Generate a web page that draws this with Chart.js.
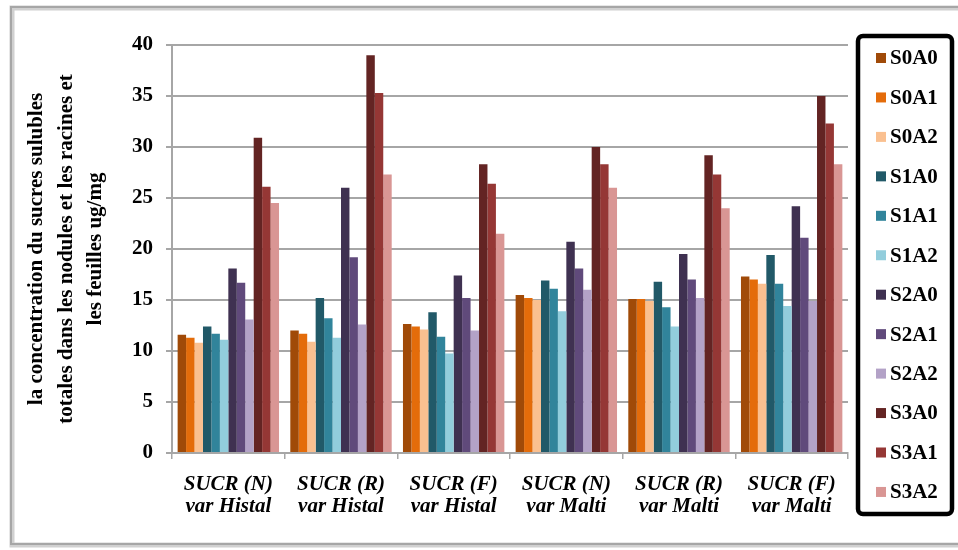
<!DOCTYPE html>
<html>
<head>
<meta charset="utf-8">
<script src="https://cdn.jsdelivr.net/npm/chart.js@4/dist/chart.umd.min.js"></script>
<style>
  html, body { margin: 0; padding: 0; background: #ffffff; }
  canvas { display: block; }
</style>
</head>
<body>
<canvas id="chart" width="958" height="550"></canvas>
<script>
// Categories: sugar content per organ (N = nodules, R = racines, F = feuilles) and variety
const categories = [
  ['SUCR (N)', 'var Histal'],
  ['SUCR (R)', 'var Histal'],
  ['SUCR (F)', 'var Histal'],
  ['SUCR (N)', 'var Malti'],
  ['SUCR (R)', 'var Malti'],
  ['SUCR (F)', 'var Malti']
];

// Treatment series (ug/mg)
const S0A0 = [11.6, 12.0, 12.65, 15.5, 15.1, 17.3];
const S0A1 = [11.3, 11.7, 12.4, 15.2, 15.1, 17.0];
const S0A2 = [10.8, 10.9, 12.1, 15.0, 14.9, 16.6];
const S1A0 = [12.4, 15.2, 13.8, 16.9, 16.8, 19.4];
const S1A1 = [11.7, 13.2, 11.4, 16.1, 14.3, 16.6];
const S1A2 = [11.1, 11.3, 9.75, 13.9, 12.4, 14.4];
const S2A0 = [18.1, 26.0, 17.4, 20.7, 19.5, 24.2];
const S2A1 = [16.7, 19.2, 15.2, 18.1, 17.0, 21.1];
const S2A2 = [13.1, 12.6, 12.0, 16.0, 15.2, 14.9];
const S3A0 = [30.9, 39.0, 28.3, 30.0, 29.2, 35.0];
const S3A1 = [26.1, 35.3, 26.4, 28.3, 27.3, 32.3];
const S3A2 = [24.5, 27.3, 21.5, 26.0, 24.0, 28.3];

const seriesNames = ['S0A0', 'S0A1', 'S0A2', 'S1A0', 'S1A1', 'S1A2',
                     'S2A0', 'S2A1', 'S2A2', 'S3A0', 'S3A1', 'S3A2'];
const seriesValues = [S0A0, S0A1, S0A2, S1A0, S1A1, S1A2,
                      S2A0, S2A1, S2A2, S3A0, S3A1, S3A2];

// Y axis range
const yMin = 0;
const yMax = 40;
const yStep = 5;

const yTitle = [
  'la concentration du sucres sulubles',
  'totales dans les nodules et les racines et',
  'les feuilles ug/mg'
];

const palette = ['#A04A08', '#E46C0A', '#FAC090',
                 '#215968', '#31849B', '#92CDDC',
                 '#3F3151', '#604A7B', '#B3A2C7',
                 '#632423', '#953735', '#D99694'];

const SERIF = "'Liberation Serif', 'Times New Roman', serif";

// White page with a soft grey frame
const framePlugin = {
  id: 'frame',
  beforeDraw(chart) {
    const ctx = chart.ctx;
    ctx.save();
    ctx.fillStyle = '#ffffff';
    ctx.fillRect(0, 0, chart.width, chart.height);
    ctx.strokeStyle = '#d0d0d0';
    ctx.lineWidth = 5;
    ctx.strokeRect(12, 8, 970, 537);
    ctx.strokeStyle = '#a6a6a6';
    ctx.lineWidth = 2;
    ctx.strokeRect(11, 7, 970, 537);
    ctx.restore();
  }
};

// Boxed legend on the right, built from the datasets
const boxLegendPlugin = {
  id: 'boxLegend',
  afterDraw(chart) {
    const ctx = chart.ctx;
    const x = 858, y = 36, w = 94, h = 478;
    ctx.save();
    ctx.lineWidth = 4.5;
    ctx.strokeStyle = '#000000';
    ctx.beginPath();
    ctx.roundRect(x, y, w, h, 5);
    ctx.stroke();
    ctx.font = 'bold 21px ' + SERIF;
    ctx.textBaseline = 'middle';
    ctx.textAlign = 'left';
    chart.data.datasets.forEach((ds, i) => {
      const cy = 58 + i * 39.45;
      ctx.fillStyle = ds.backgroundColor;
      ctx.fillRect(876, cy - 5, 10, 10);
      ctx.fillStyle = '#000000';
      ctx.fillText(ds.label, 890, cy + 1);
    });
    ctx.restore();
  }
};

new Chart(document.getElementById('chart'), {
  type: 'bar',
  data: {
    labels: categories,
    datasets: seriesNames.map((name, i) => ({
      label: name,
      data: seriesValues[i],
      backgroundColor: palette[i],
      borderWidth: 0,
      categoryPercentage: 0.9,
      barPercentage: 1.0
    }))
  },
  options: {
    responsive: false,
    maintainAspectRatio: false,
    devicePixelRatio: 1,
    animation: false,
    layout: { padding: { top: 45, right: 110, bottom: 0, left: 0 } },
    plugins: {
      legend: { display: false },
      tooltip: { enabled: false }
    },
    scales: {
      x: {
        afterFit(scale) { scale.height = 97; },
        grid: {
          offset: true,
          drawOnChartArea: false,
          drawTicks: true,
          tickLength: 6,
          color: '#a6a6a6',
          lineWidth: 1.5
        },
        border: { display: true, color: '#a6a6a6', width: 2 },
        ticks: {
          color: '#000000',
          padding: 14,
          maxRotation: 0,
          autoSkip: false,
          font: { family: SERIF, size: 21, weight: 'bold', style: 'italic', lineHeight: 1.06 }
        }
      },
      y: {
        min: yMin,
        max: yMax,
        afterFit(scale) { scale.width = 172; },
        grid: {
          color: '#a6a6a6',
          lineWidth: 2,
          drawTicks: true,
          tickLength: 6
        },
        border: { display: true, color: '#a6a6a6', width: 2 },
        ticks: {
          stepSize: yStep,
          color: '#000000',
          padding: 13,
          font: { family: SERIF, size: 21, weight: 'bold' }
        },
        title: {
          display: true,
          text: yTitle,
          color: '#000000',
          padding: { top: 22, bottom: 0 },
          font: { family: SERIF, size: 21, weight: 'bold', lineHeight: 1.4 }
        }
      }
    }
  },
  plugins: [framePlugin, boxLegendPlugin]
});
</script>
</body>
</html>
